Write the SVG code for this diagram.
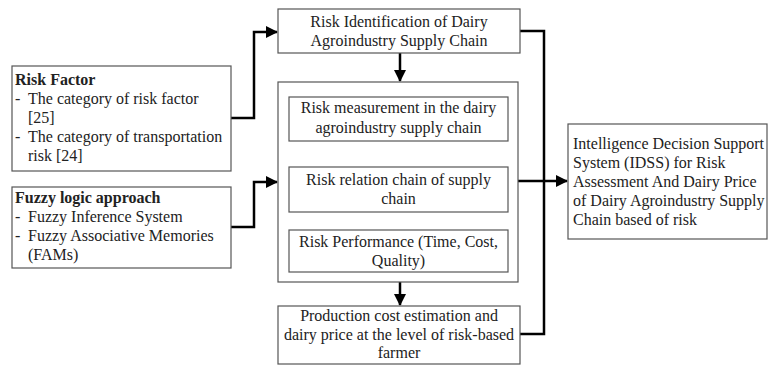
<svg xmlns="http://www.w3.org/2000/svg" width="768" height="366" viewBox="0 0 768 366">
<style>
.box{fill:#fff;stroke:#555;stroke-width:1.2}
.t{font-family:"Liberation Serif","Times New Roman",serif;font-size:16px;fill:#222}
.c{text-anchor:middle}
.b{font-weight:bold}
.con{fill:none;stroke:#000;stroke-width:2.5}
</style>
<defs>
<marker id="ah" markerUnits="userSpaceOnUse" markerWidth="12" markerHeight="12" viewBox="0 0 12 12" refX="11" refY="6" orient="auto">
<path d="M0,0 L12,6 L0,12 Z" fill="#000"/>
</marker>
</defs>
<rect width="768" height="366" fill="#fff"/>
<g id="connectors">
<path class="con" d="M231,118 H254 V32 H277" marker-end="url(#ah)"/>
<path class="con" d="M231,227 H254 V182 H277" marker-end="url(#ah)"/>
<path class="con" d="M400,53 V81" marker-end="url(#ah)"/>
<path class="con" d="M400,141 V166" marker-end="url(#ah)"/>
<path class="con" d="M400,282 V305" marker-end="url(#ah)"/>
<path class="con" d="M520,31 H544 V334 H520"/>
<path class="con" d="M518,181 H567" marker-end="url(#ah)"/>
</g>
<g id="risk-factor">
<rect class="box" x="12" y="66" width="219" height="105"/>
<text class="t b" x="15" y="85">Risk Factor</text>
<text class="t" x="15" y="104">-</text><text class="t" x="28" y="104">The category of risk factor</text>
<text class="t" x="28" y="123">[25]</text>
<text class="t" x="15" y="142">-</text><text class="t" x="28" y="142">The category of transportation</text>
<text class="t" x="28" y="161">risk [24]</text>
</g>
<g id="fuzzy">
<rect class="box" x="12" y="187" width="219" height="81"/>
<text class="t b" x="15" y="203">Fuzzy logic approach</text>
<text class="t" x="15" y="222">-</text><text class="t" x="28" y="222">Fuzzy Inference System</text>
<text class="t" x="15" y="241">-</text><text class="t" x="28" y="241">Fuzzy Associative Memories</text>
<text class="t" x="28" y="260">(FAMs)</text>
</g>
<g id="risk-identification">
<rect class="box" x="278" y="9" width="242" height="44"/>
<text class="t c" x="399" y="27">Risk Identification of Dairy</text>
<text class="t c" x="399" y="46">Agroindustry Supply Chain</text>
</g>
<g id="container">
<rect class="box" x="278" y="82" width="240" height="200"/>
</g>
<g id="risk-measurement">
<rect class="box" x="289" y="97" width="219" height="44"/>
<text class="t c" x="398.5" y="113">Risk measurement in the dairy</text>
<text class="t c" x="398.5" y="133">agroindustry supply chain</text>
</g>
<g id="risk-relation">
<rect class="box" x="289" y="167" width="219" height="45"/>
<text class="t c" x="398.5" y="185">Risk relation chain of supply</text>
<text class="t c" x="398.5" y="204">chain</text>
</g>
<g id="risk-performance">
<rect class="box" x="289" y="230" width="219" height="42"/>
<text class="t c" x="398.5" y="247">Risk Performance (Time, Cost,</text>
<text class="t c" x="398.5" y="266">Quality)</text>
</g>
<g id="production-cost">
<rect class="box" x="278" y="306" width="242" height="58"/>
<text class="t c" x="399" y="321">Production cost estimation and</text>
<text class="t c" x="399" y="340">dairy price at the level of risk-based</text>
<text class="t c" x="399" y="358">farmer</text>
</g>
<g id="idss">
<rect class="box" x="568" y="124" width="199" height="115"/>
<text class="t" x="573" y="149">Intelligence Decision Support</text>
<text class="t" x="573" y="168">System (IDSS) for Risk</text>
<text class="t" x="573" y="187">Assessment And Dairy Price</text>
<text class="t" x="573" y="206">of Dairy Agroindustry Supply</text>
<text class="t" x="573" y="225">Chain based of risk</text>
</g>
</svg>
